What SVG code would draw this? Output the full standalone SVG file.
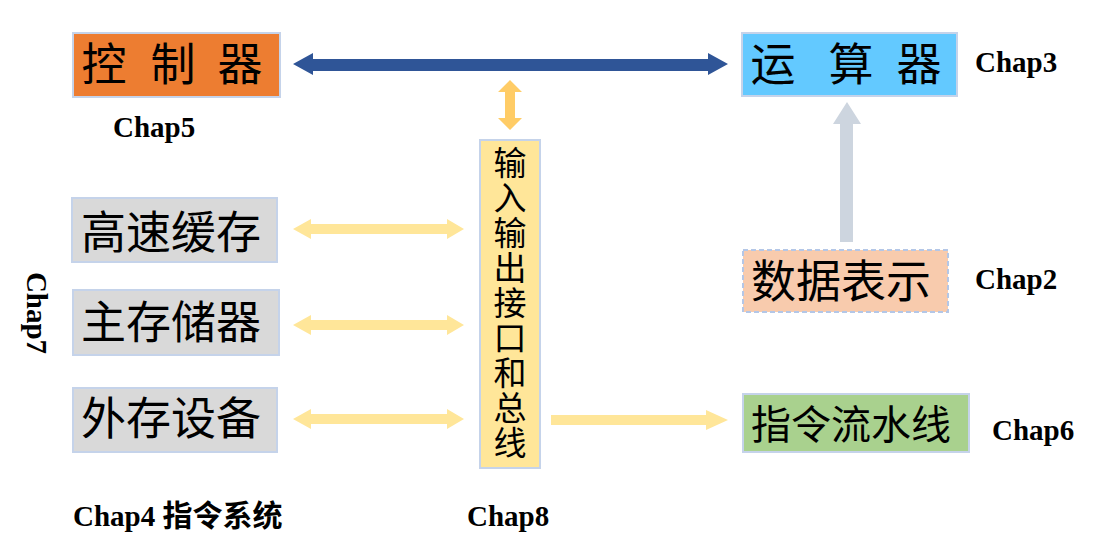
<svg xmlns="http://www.w3.org/2000/svg" width="1104" height="550" viewBox="0 0 1104 550">
<style>
.box{stroke:#C5D3EA;stroke-width:2}
.cn{font-family:"Noto Sans CJK SC","Noto Sans",sans-serif;fill:#000}
.big{font-size:45px}
.chap{font-family:"Liberation Serif","Times New Roman",serif;font-weight:bold;font-size:29px;fill:#000}
.cnb{font-family:"Noto Sans CJK SC",sans-serif;font-weight:bold;font-size:30px}
</style>
<rect width="1104" height="550" fill="#fff"/>
<g id="controller">
<rect class="box" x="73" y="33" width="207" height="64" fill="#ED7D31"/>
<text class="cn big" text-anchor="middle" y="81"><tspan x="104">控</tspan><tspan x="173">制</tspan><tspan x="240">器</tspan></text>
</g>
<g id="alu">
<rect class="box" x="742" y="33" width="215" height="63" fill="#63C9FF"/>
<text class="cn big" text-anchor="middle" y="81"><tspan x="773">运</tspan><tspan x="851">算</tspan><tspan x="919">器</tspan></text>
</g>
<g id="cache">
<rect class="box" x="72" y="198" width="205" height="64" fill="#D9D9D9"/>
<text class="cn big" x="81" y="249">高速缓存</text>
</g>
<g id="mainmem">
<rect class="box" x="73" y="290" width="206" height="65" fill="#D9D9D9"/>
<text class="cn big" x="81" y="339">主存储器</text>
</g>
<g id="extstore">
<rect class="box" x="73" y="388" width="204" height="64" fill="#D9D9D9"/>
<text class="cn big" x="81" y="435">外存设备</text>
</g>
<g id="io">
<rect class="box" x="480" y="140" width="60" height="328" fill="#FFE699"/>
<text class="cn" x="510" y="146" font-size="33" letter-spacing="2" writing-mode="vertical-rl">输入输出接口和总线</text>
</g>
<g id="datarep">
<rect x="743" y="250" width="205" height="62" fill="#F8CBAD" stroke="#B4C7E7" stroke-width="2" stroke-dasharray="5,3"/>
<text class="cn big" x="751" y="298">数据表示</text>
</g>
<g id="pipeline">
<rect class="box" x="743" y="394" width="226" height="58" fill="#A9D18E"/>
<text class="cn" font-size="40" x="751" y="439">指令流水线</text>
</g>
<g id="labels">
<text class="chap" x="975" y="72">Chap3</text>
<text class="chap" x="113" y="137">Chap5</text>
<text class="chap" x="975" y="289">Chap2</text>
<text class="chap" x="992" y="440">Chap6</text>
<text class="chap" x="467" y="526">Chap8</text>
<text class="chap" x="73" y="526">Chap4 <tspan class="cnb">指令系统</tspan></text>
<text class="chap" transform="translate(27,313) rotate(90)" text-anchor="middle">Chap7</text>
</g>
<g id="connectors">
<polygon fill="#2F5597" points="293,64 313,53 313,59 708,59 708,53 728,64 708,75 708,71 313,71 313,75"/>
<polygon fill="#FFCC66" points="510,80 522,92 515,92 515,118 522,118 510,130 498,118 505,118 505,92 498,92"/>
<polygon fill="#FFE699" points="293,229 311,219 311,224 447,224 447,219 464,229 447,239 447,234 311,234 311,239"/>
<polygon fill="#FFE699" points="293,325 311,315 311,320 447,320 447,315 464,325 447,335 447,330 311,330 311,335"/>
<polygon fill="#FFE699" points="293,419 311,409 311,414 447,414 447,409 464,419 447,429 447,424 311,424 311,429"/>
<polygon fill="#FFE699" points="551,415 706,415 706,410 728,420 706,430 706,425 551,425"/>
<polygon fill="#CDD5DF" points="847,102 861,124 853,124 853,242 840,242 840,124 833,124"/>
</g>
</svg>
